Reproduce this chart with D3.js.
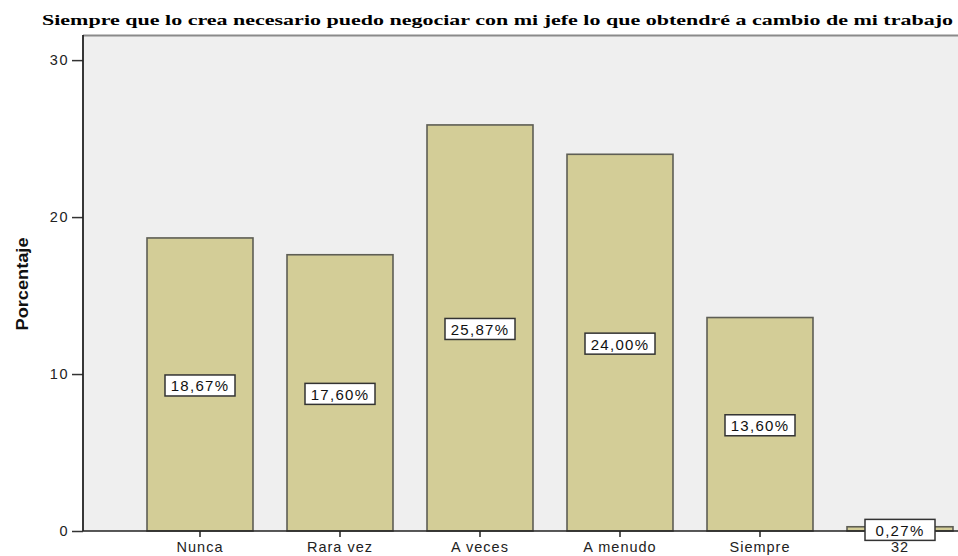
<!DOCTYPE html>
<html>
<head>
<meta charset="utf-8">
<script src="https://cdn.jsdelivr.net/npm/d3@7/dist/d3.min.js"></script>
<style>
  html, body { margin: 0; padding: 0; background: #fff; }
  svg { display: block; }
</style>
</head>
<body>
<svg id="chart" width="958" height="556"></svg>
<script>
// Survey answers and their share of respondents (%)
const categories = ["Nunca", "Rara vez", "A veces", "A menudo", "Siempre", "32"];
const percentages = [18.67, 17.60, 25.87, 24.00, 13.60, 0.27];
const yTicks = [0, 10, 20, 30];
const chartTitle = "Siempre que lo crea necesario puedo negociar con mi jefe lo que obtendré a cambio de mi trabajo";
const yAxisTitle = "Porcentaje";

const W = 958, H = 556;
const plot = { left: 83, top: 35, right: 970, bottom: 531 };
const sans = "'Liberation Sans', Arial, sans-serif";

const svg = d3.select("#chart");

const y = d3.scaleLinear()
  .domain([0, 31.6])
  .range([plot.bottom, plot.top]);

const x = d3.scaleBand()
  .domain(categories)
  .range([130, 970])
  .paddingInner(0.243)
  .paddingOuter(0.1215);

// plot background
svg.append("rect")
  .attr("x", plot.left).attr("y", plot.top)
  .attr("width", W - plot.left).attr("height", plot.bottom - plot.top)
  .attr("fill", "#efefef");

// top frame line
svg.append("line")
  .attr("x1", plot.left).attr("x2", W)
  .attr("y1", plot.top + 0.5).attr("y2", plot.top + 0.5)
  .attr("stroke", "#8a8a8a").attr("stroke-width", 2);

// bars
svg.append("g").selectAll("rect")
  .data(categories)
  .join("rect")
  .attr("x", d => x(d))
  .attr("y", (d, i) => y(percentages[i]))
  .attr("width", x.bandwidth())
  .attr("height", (d, i) => y(0) - y(percentages[i]))
  .attr("fill", "#d3cd97")
  .attr("stroke", "#5e5e55")
  .attr("stroke-width", 1.6);

// y axis
const yAxis = svg.append("g")
  .attr("transform", `translate(${plot.left},0)`)
  .call(d3.axisLeft(y).tickValues(yTicks).tickSize(11).tickPadding(3).tickFormat(d3.format("d")));
yAxis.select(".domain").remove();
yAxis.selectAll(".tick line").attr("stroke", "#333").attr("stroke-width", 1.5);
yAxis.selectAll(".tick text")
  .attr("font-family", sans)
  .attr("font-size", 14.5).attr("letter-spacing", 1.5).attr("fill", "#222");

// left frame line
svg.append("line")
  .attr("x1", plot.left).attr("x2", plot.left)
  .attr("y1", plot.top).attr("y2", plot.bottom)
  .attr("stroke", "#222").attr("stroke-width", 1.8);

// x axis
const xAxis = svg.append("g")
  .attr("transform", `translate(0,${plot.bottom})`)
  .call(d3.axisBottom(x).tickSize(6).tickPadding(5));
xAxis.select(".domain").remove();
xAxis.selectAll(".tick line").attr("stroke", "#222").attr("stroke-width", 1.5);
xAxis.selectAll(".tick text")
  .attr("font-family", sans)
  .attr("font-size", 14.5).attr("letter-spacing", 1).attr("fill", "#222");

svg.append("line")
  .attr("x1", plot.left).attr("x2", W)
  .attr("y1", plot.bottom).attr("y2", plot.bottom)
  .attr("stroke", "#222").attr("stroke-width", 1.5);

// value labels centred on each bar
const fmt = v => v.toFixed(2).replace(".", ",") + "%";
const labels = svg.append("g").selectAll("g")
  .data(categories)
  .join("g")
  .attr("transform", (d, i) => `translate(${x(d) + x.bandwidth() / 2},${(y(0) + y(percentages[i])) / 2 + 1.5})`);

labels.append("rect")
  .attr("x", -35).attr("y", -11)
  .attr("width", 70).attr("height", 21)
  .attr("fill", "#fff")
  .attr("stroke", "#333").attr("stroke-width", 1.5);

labels.append("text")
  .attr("text-anchor", "middle")
  .attr("dy", "0.36em")
  .attr("font-family", sans)
  .attr("font-size", 15).attr("letter-spacing", 1.3).attr("fill", "#111")
  .text((d, i) => fmt(percentages[i]));

// title
svg.append("text")
  .attr("x", 42).attr("y", 25)
  .attr("font-family", "'Liberation Serif', 'Times New Roman', serif")
  .attr("font-weight", "bold").attr("font-size", 15.5)
  .attr("textLength", 911).attr("lengthAdjust", "spacingAndGlyphs")
  .attr("fill", "#000")
  .text(chartTitle);

// y axis title
svg.append("text")
  .attr("transform", "translate(28,284) rotate(-90)")
  .attr("text-anchor", "middle")
  .attr("font-family", "'Liberation Sans Narrow', 'Liberation Sans', Arial, sans-serif")
  .attr("font-weight", "bold").attr("font-size", 16)
  .attr("textLength", 93).attr("lengthAdjust", "spacingAndGlyphs")
  .attr("fill", "#111")
  .text(yAxisTitle);
</script>
</body>
</html>
